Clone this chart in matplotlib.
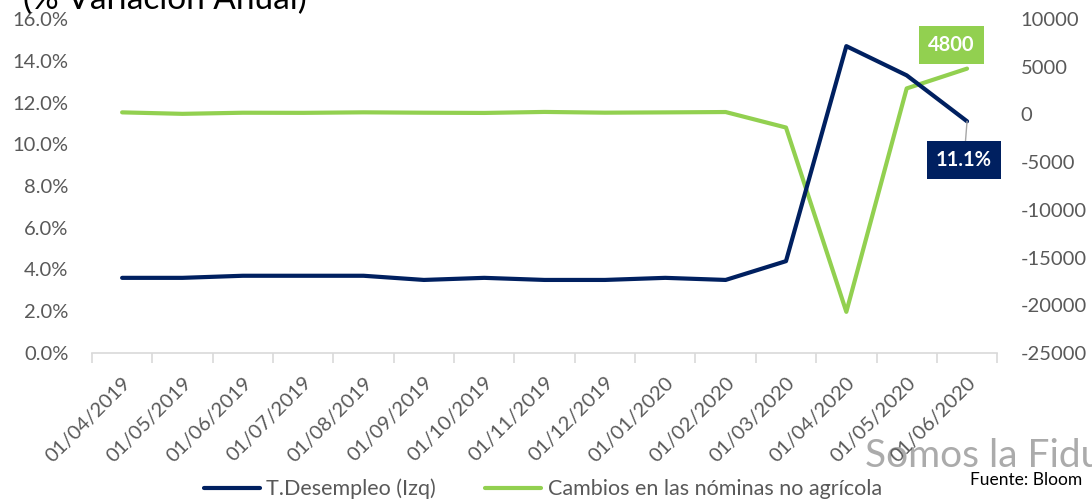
import matplotlib
matplotlib.use("Agg")
import matplotlib.pyplot as plt
import numpy as np

dates = ["01/04/2019", "01/05/2019", "01/06/2019", "01/07/2019", "01/08/2019",
         "01/09/2019", "01/10/2019", "01/11/2019", "01/12/2019", "01/01/2020",
         "01/02/2020", "01/03/2020", "01/04/2020", "01/05/2020", "01/06/2020"]
desempleo = [3.6, 3.6, 3.7, 3.7, 3.7, 3.5, 3.6, 3.5, 3.5, 3.6, 3.5, 4.4, 14.7, 13.3, 11.1]
nominas = [216, 62, 178, 166, 219, 180, 156, 261, 184, 214, 251, -1373, -20687, 2725, 4800]

left_ticks = [0, 2, 4, 6, 8, 10, 12, 14, 16]
right_ticks = [-25000, -20000, -15000, -10000, -5000, 0, 5000, 10000]

NAVY = "#002060"
GREEN = "#92D050"
GRAY = "#595959"
FONT = ["Lato", "DejaVu Sans"]
plt.rcParams["font.family"] = FONT

fig = plt.figure(figsize=(10.92, 5.0), dpi=100)
ax = fig.add_axes([0.0842, 0.294, 0.829, 0.668])
ax2 = ax.twinx()

x = np.arange(len(dates))
l1, = ax.plot(x, desempleo, color=NAVY, lw=3.0, solid_capstyle="round", solid_joinstyle="round", zorder=3)
l2, = ax2.plot(x, nominas, color=GREEN, lw=3.0, solid_capstyle="round", solid_joinstyle="round", zorder=2)

ax.set_xlim(-0.5, len(dates) - 0.5)
ax.set_ylim(0, 16)
ax2.set_ylim(-25000, 10000)

ax.set_yticks(left_ticks)
ax.set_yticklabels([f"{v:.1f}%" for v in left_ticks])
ax2.set_yticks(right_ticks)
ax2.set_yticklabels([str(v) for v in right_ticks])

for a in (ax, ax2):
    for s in a.spines.values():
        s.set_visible(False)
ax.spines["bottom"].set_visible(True)
ax.spines["bottom"].set_color("#D9D9D9")
ax.spines["bottom"].set_linewidth(1.2)

ax.tick_params(axis="y", length=0, labelsize=14.5, labelcolor=GRAY, pad=17)
ax2.tick_params(axis="y", length=0, labelsize=14.5, labelcolor=GRAY, pad=17)

# category boundary ticks (major) and labels at centers (minor)
ax.set_xticks(np.arange(-0.5, len(dates), 1.0))
ax.set_xticklabels([])
ax.tick_params(axis="x", which="major", length=7, color="#D9D9D9", width=1.2)
ax.set_xticks(x, minor=True)
ax.set_xticklabels(dates, minor=True, rotation=45, ha="right", va="top",
                   rotation_mode="anchor", fontsize=14.5, color=GRAY)
ax.tick_params(axis="x", which="minor", length=0, pad=15)

ax.set_zorder(ax2.get_zorder() + 1)
ax.patch.set_visible(False)

# annotations
ax2.annotate("4800", xy=(x[-1], nominas[-1]), xytext=(x[-1] - 0.26, 7250),
             ha="center", va="center", fontsize=14.5, fontweight="bold", color="white",
             bbox=dict(boxstyle="square,pad=0.45", fc=GREEN, ec="none"))
ax.annotate("11.1%", xy=(x[-1], desempleo[-1]), xytext=(x[-1] - 0.05, 9.25),
            ha="center", va="center", fontsize=14.5, fontweight="bold", color="white",
            bbox=dict(boxstyle="square,pad=0.45", fc=NAVY, ec="none"),
            arrowprops=dict(arrowstyle="-", color="#A6A6A6", lw=1, shrinkA=0, shrinkB=0))

fig.text(0.021, 1.0, "(% Variación Anual)", fontsize=24, color="black", ha="left", va="center")

leg = fig.legend([l1, l2], ["T.Desempleo (Izq)", "Cambios en las nóminas no agrícola"],
                 loc="center", bbox_to_anchor=(0.497, 0.022), ncol=2, frameon=False,
                 fontsize=15.5, handlelength=2.6, columnspacing=2.3, handletextpad=0.3)
for t in leg.get_texts():
    t.set_color(GRAY)

fig.text(0.792, 0.088, "Somos la Fiduc", fontsize=28, color="#ABABAB", ha="left", va="center",
         zorder=0)
fig.text(0.888, 0.04, "Fuente: Bloom", fontsize=12.5, color="black", ha="left", va="center",
         zorder=5)

fig.savefig("out.png", dpi=100)
